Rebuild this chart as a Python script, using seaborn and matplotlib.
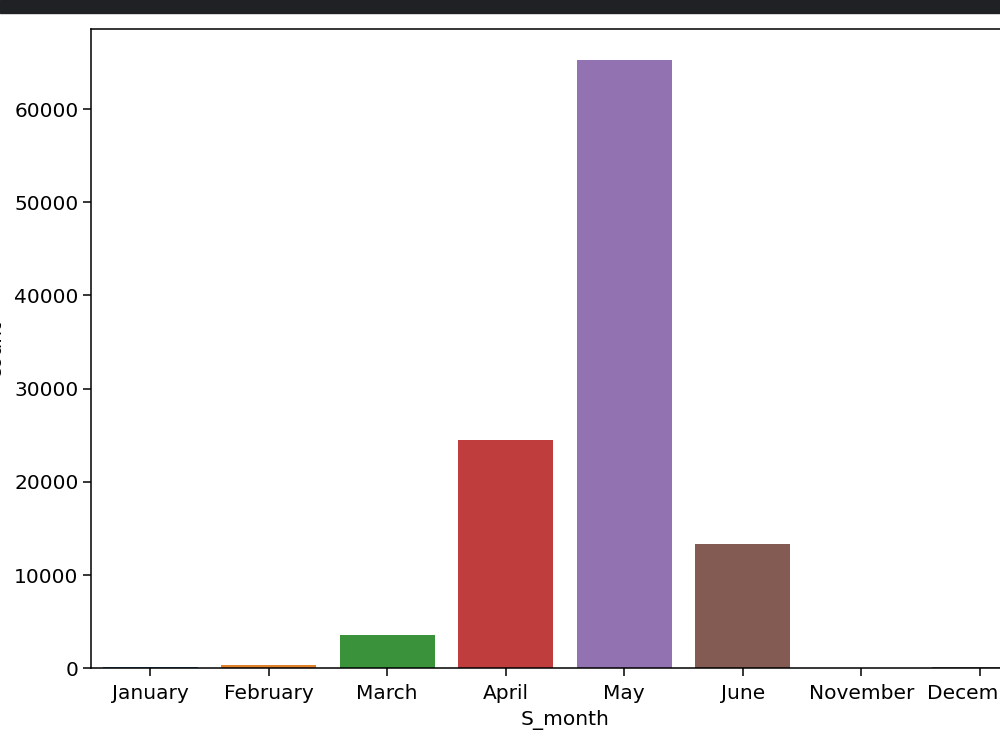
import matplotlib
matplotlib.use("Agg")
import matplotlib.pyplot as plt
from matplotlib.patches import Rectangle
import pandas as pd
import seaborn as sns

# values (counts per start month)
months = ["January", "February", "March", "April", "May", "June", "November", "December"]
counts = [150, 350, 3550, 24500, 65300, 13350, 15, 120]

df = pd.DataFrame({"S_month": months, "count": counts})

plt.rcParams["font.family"] = ["DejaVu Sans"]
plt.rcParams["font.size"] = 14.5

fig = plt.figure(figsize=(10, 7.5), dpi=100)
# axes run past the right edge, as in the cropped screenshot
ax = fig.add_axes([0.091, 0.109, 0.948, 0.852])

sns.barplot(data=df, x="S_month", y="count", hue="S_month",
            palette="tab10", legend=False, ax=ax)

ax.set_xlabel("S_month", fontsize=14.5, labelpad=5)
ax.set_ylabel("count", fontsize=14.5, labelpad=7)
ax.tick_params(labelsize=14.5, length=5.5, width=1.1)
ax.tick_params(axis="x", pad=6)
for sp in ax.spines.values():
    sp.set_linewidth(1.1)

# dark strip at the top of the screenshot
fig.add_artist(Rectangle((0, 1 - 13 / 750), 1, 13 / 750, transform=fig.transFigure,
                         color="#202124", zorder=10))

fig.savefig("out.png", dpi=100)
